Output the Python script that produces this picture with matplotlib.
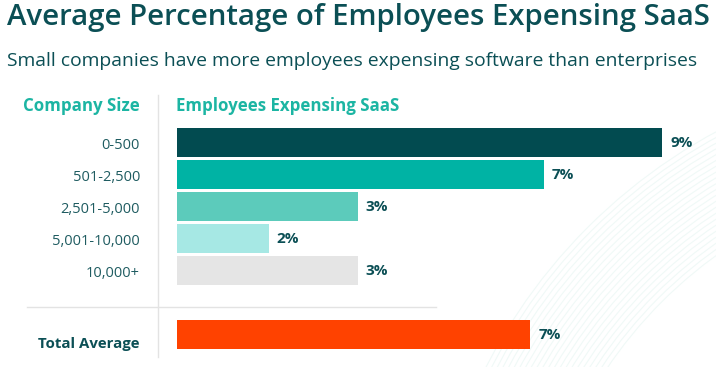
import matplotlib
matplotlib.use('Agg')
import matplotlib.pyplot as plt
from matplotlib.lines import Line2D
from matplotlib.patches import Circle
import numpy as np

# data
categories = ["0-500", "501-2,500", "2,501-5,000", "5,001-10,000", "10,000+"]
values = [9.0, 6.8, 3.35, 1.7, 3.35]
total_label = "Total Average"
total_value = 6.55

bar_colors = ["#024b50", "#00b3a4", "#5ccbbb", "#a6e8e4", "#e5e5e5"]
total_color = "#ff4200"
dark = "#0b4f55"
teal = "#1cb5a3"
label_col = "#1f5c61"

plt.rcParams['font.family'] = ['Open Sans', 'DejaVu Sans']

W, H = 716, 367
fig = plt.figure(figsize=(W / 100, H / 100), dpi=100)

def fx(px):
    return px / W

def fy(py):
    return 1 - py / H

# faint background arcs (decoration)
bg = fig.add_axes([0, 0, 1, 1])
bg.set_xlim(0, W)
bg.set_ylim(H, 0)
bg.axis('off')
for r in np.arange(450, 556, 5):
    bg.add_patch(Circle((980, 620), r, fill=False, ec="#f0f9f7", lw=0.8))

# titles
fig.text(fx(7), fy(18), "Average Percentage of Employees Expensing SaaS",
         fontsize=21.2, fontweight='semibold', color=dark, va='center', ha='left')
fig.text(fx(7), fy(61), "Small companies have more employees expensing software than enterprises",
         fontsize=13.9, color=dark, va='center', ha='left')
fig.text(fx(140), fy(106), "Company Size", fontsize=12.2, fontweight='bold',
         color=teal, va='center', ha='right')
fig.text(fx(176), fy(106), "Employees Expensing SaaS", fontsize=12.2, fontweight='bold',
         color=teal, va='center', ha='left')

# divider lines
fig.add_artist(Line2D([fx(158), fx(158)], [fy(95), fy(357)], color="#e3e3e3", lw=1))
fig.add_artist(Line2D([fx(27), fx(436)], [fy(307), fy(307)], color="#e3e3e3", lw=1))

# bars
ax = fig.add_axes([fx(177), fy(357), 1 - fx(177), (357 - 95) / H])
ax.set_xlim(0, 539 / 53.9)
ax.set_ylim((357 - 142.5) / 32, (95 - 142.5) / 32)
ax.axis('off')

ypos = list(range(len(categories)))
ax.barh(ypos, values, height=0.9, color=bar_colors)
ax.barh([6], [total_value], height=0.9, color=total_color)

for y, v in zip(ypos + [6], values + [total_value]):
    ax.text(v + 0.15, y + 0.03, f"{round(v)}%", fontsize=11, fontweight='bold',
            color=dark, va='center', ha='left')

for y, c in zip(ypos, categories):
    fig.text(fx(140), fy(145.5 + 32 * y), c, fontsize=10.5, color=label_col,
             va='center', ha='right')
fig.text(fx(140), fy(142.5 + 32 * 6.3), total_label, fontsize=10.8, fontweight='bold',
         color=dark, va='center', ha='right')

fig.savefig("out.png", dpi=100)
